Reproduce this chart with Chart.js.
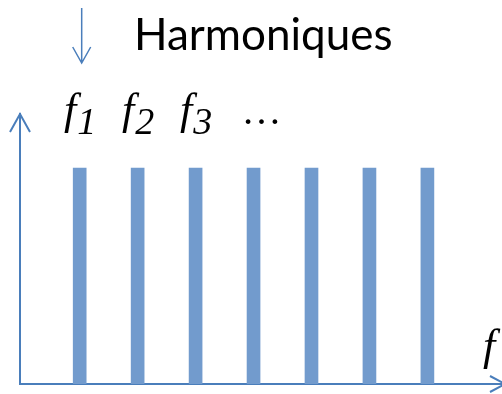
<!DOCTYPE html>
<html>
<head>
<meta charset="utf-8">
<script src="https://cdn.jsdelivr.net/npm/chart.js@4/dist/chart.umd.min.js"></script>
<style>
  html, body { margin: 0; padding: 0; background: #fff; }
  #wrap { width: 502px; height: 394px; }
</style>
</head>
<body>
<div id="wrap"><canvas id="spectrum"></canvas></div>
<script>
// Harmonic spectrum: equal amplitude lines at f1, f2, f3 ...
const harmonics = [1, 2, 3, 4, 5, 6, 7];
const amplitudes = [1, 1, 1, 1, 1, 1, 1];
const harmonicLabels = [['f', '1'], ['f', '2'], ['f', '3']];
const title = 'Harmoniques';

const axisColor = '#4A7EBB';
const barColor = '#729BCD';
const serif = '"Liberation Serif", "Times New Roman", serif';

// arrows, title and frequency labels drawn on top of the chart
const annotations = {
    id: 'annotations',
    afterDraw(chart) {
        const ctx = chart.ctx;
        const x = chart.scales.x;
        const area = chart.chartArea;
        ctx.save();

        // axis arrowheads
        ctx.strokeStyle = axisColor;
        ctx.lineWidth = 2;
        ctx.beginPath();
        ctx.moveTo(area.left - 10, area.top + 18);
        ctx.lineTo(area.left, area.top);
        ctx.lineTo(area.left + 10, area.top + 18);
        ctx.moveTo(area.right - 11, area.bottom - 8);
        ctx.lineTo(area.right + 4, area.bottom);
        ctx.lineTo(area.right - 11, area.bottom + 8);
        ctx.stroke();

        // pointer to the first harmonic
        const x1 = x.getPixelForValue(harmonics[0]) + 2;
        ctx.lineWidth = 1.5;
        ctx.beginPath();
        ctx.moveTo(x1, 8);
        ctx.lineTo(x1, 63);
        ctx.moveTo(x1 - 9, 47);
        ctx.lineTo(x1, 63);
        ctx.lineTo(x1 + 9, 47);
        ctx.stroke();

        // title
        ctx.fillStyle = '#000';
        ctx.font = '44px Lato';
        ctx.textBaseline = 'alphabetic';
        ctx.textAlign = 'left';
        ctx.fillText(title, 134, 50);

        // f1 f2 f3 ...
        const base = 124;
        harmonicLabels.forEach(([f, n], i) => {
            const cx = x.getPixelForValue(harmonics[i]);
            ctx.font = 'italic 44px ' + serif;
            const wf = ctx.measureText(f).width;
            ctx.font = 'italic 38px ' + serif;
            const wn = ctx.measureText(n).width;
            const left = cx - (wf + wn) / 2;
            ctx.font = 'italic 44px ' + serif;
            ctx.fillText(f, left, base);
            ctx.font = 'italic 38px ' + serif;
            ctx.fillText(n, left + wf + 1, base + 10);
        });
        ctx.font = '40px ' + serif;
        ctx.textAlign = 'center';
        ctx.fillText('…', x.getPixelForValue(harmonics[3]) + 8, base);

        // frequency axis label
        ctx.font = 'italic 44px ' + serif;
        ctx.textAlign = 'left';
        ctx.fillText('f', 483, 360);

        ctx.restore();
    }
};

function draw() {
    new Chart(document.getElementById('spectrum'), {
        type: 'bar',
        data: {
            datasets: [{
                data: harmonics.map((h, i) => ({ x: h, y: amplitudes[i] })),
                backgroundColor: barColor,
                barThickness: 13,
                borderWidth: 0
            }]
        },
        options: {
            responsive: true,
            maintainAspectRatio: false,
            animation: false,
            layout: { padding: { left: 20, top: 114, right: 1, bottom: 10 } },
            plugins: {
                legend: { display: false },
                tooltip: { enabled: false }
            },
            scales: {
                x: {
                    type: 'linear',
                    min: -0.03,
                    max: 8.27,
                    offset: false,
                    ticks: { display: false, padding: 0 },
                    grid: { display: false, drawTicks: false, tickLength: 0 },
                    border: { display: true, color: axisColor, width: 2 }
                },
                y: {
                    min: 0,
                    max: 1.25,
                    ticks: { display: false, padding: 0 },
                    grid: { display: false, drawTicks: false, tickLength: 0 },
                    border: { display: true, color: axisColor, width: 2 }
                }
            }
        },
        plugins: [annotations]
    });
}

Promise.all([
    document.fonts.load('italic 44px "Liberation Serif"'),
    document.fonts.load('44px Lato')
]).then(draw, draw);
</script>
</body>
</html>
